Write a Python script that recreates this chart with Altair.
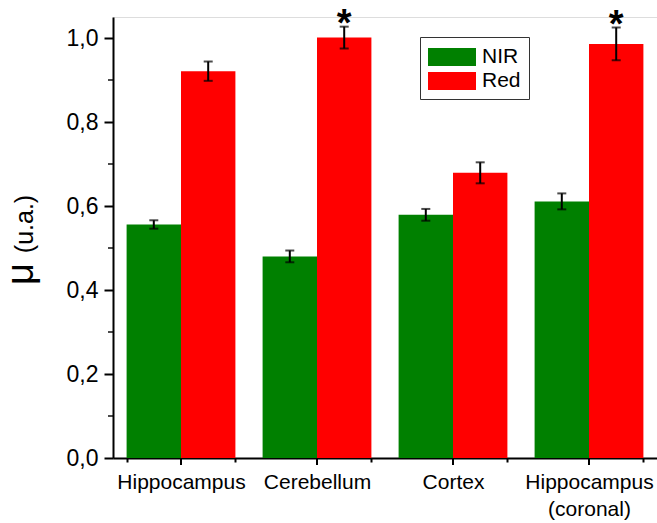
import altair as alt
import pandas as pd

categories = ["Hippocampus", "Cerebellum", "Cortex", "Hippocampus (coronal)"]
series = ["NIR", "Red"]
nir_values = [0.556, 0.480, 0.579, 0.611]
nir_errors = [0.010, 0.014, 0.014, 0.019]
red_values = [0.921, 1.001, 0.679, 0.986]
red_errors = [0.023, 0.026, 0.025, 0.039]
red_significant = [False, True, False, True]
y_major_ticks = [0.0, 0.2, 0.4, 0.6, 0.8, 1.0]
y_minor_ticks = [0.1, 0.3, 0.5, 0.7, 0.9]

rows = []
for i, c in enumerate(categories):
    rows.append({"cat": c, "series": "NIR", "value": nir_values[i], "err": nir_errors[i], "star": False})
    rows.append({"cat": c, "series": "Red", "value": red_values[i], "err": red_errors[i], "star": red_significant[i]})
df = pd.DataFrame(rows)
df["lo"] = df["value"] - df["err"]
df["hi"] = df["value"] + df["err"]
df["mark"] = "*"

W, H = 544, 441
FONT = "Liberation Sans"

x_enc = alt.X("cat:N", sort=categories, title=None,
              scale=alt.Scale(paddingInner=0.2, paddingOuter=0.1),
              axis=alt.Axis(tickBand="extent", tickSize=4, tickWidth=2, tickColor="black",
                            domainColor="black", domainWidth=2, labelAngle=0, grid=False,
                            labelFontSize=21, labelFont=FONT, labelColor="black",
                            labelPadding=9, labelLineHeight=27,
                            labelExpr="isValid(datum.value) ? split(datum.value, ' ') : ''"))
xoff = alt.XOffset("series:N", sort=series, scale=alt.Scale(paddingInner=0, paddingOuter=0))
y_scale = alt.Scale(domain=[0, 1.05], nice=False, zero=True)
y_enc = alt.Y("value:Q", scale=y_scale, title=None,
              axis=alt.Axis(values=y_major_ticks, tickSize=9, tickWidth=2, tickColor="black",
                            domainColor="black", domainWidth=2, grid=False,
                            labelFontSize=23, labelFont=FONT, labelColor="black",
                            labelPadding=6,
                            labelExpr="replace(format(datum.value, '.1f'), '.', ',')"))

bars = alt.Chart(df).mark_bar(size=54.4).encode(
    x=x_enc,
    xOffset=xoff,
    y=y_enc,
    color=alt.Color("series:N", sort=series,
                    scale=alt.Scale(domain=series, range=["#008000", "#ff0000"]),
                    legend=alt.Legend(title=None, orient="none", legendX=307, legendY=20,
                                      symbolType="M-1,-0.75H3V0.75H-1Z", symbolSize=576,
                                      symbolStrokeWidth=0, labelFontSize=21, labelFont=FONT,
                                      labelColor="black", padding=8, rowPadding=2,
                                      labelOffset=30, strokeColor="#333333",
                                      labelExpr="datum.label + '\u00a0\u00a0'",
                                      fillColor="white")),
)

err_rule = alt.Chart(df).mark_rule(color="black", strokeWidth=2).encode(
    x=alt.X("cat:N", sort=categories),
    xOffset=xoff,
    y=alt.Y("lo:Q", scale=y_scale),
    y2="hi:Q",
)
cap_lo = alt.Chart(df).mark_tick(color="black", thickness=2, size=9).encode(
    x=alt.X("cat:N", sort=categories),
    xOffset=xoff,
    y=alt.Y("lo:Q", scale=y_scale),
)
cap_hi = alt.Chart(df).mark_tick(color="black", thickness=2, size=9).encode(
    x=alt.X("cat:N", sort=categories),
    xOffset=xoff,
    y=alt.Y("hi:Q", scale=y_scale),
)
stars = alt.Chart(df).transform_filter("datum.star").mark_text(
    fontSize=38, fontWeight="bold", font=FONT, color="black", baseline="alphabetic", dy=9
).encode(
    x=alt.X("cat:N", sort=categories),
    xOffset=xoff,
    y=alt.Y("hi:Q", scale=y_scale),
    text="mark:N",
)

cat_df = pd.DataFrame({"cat": categories})
x_major = alt.Chart(cat_df).mark_rule(color="black", strokeWidth=2).encode(
    x=alt.X("cat:N", sort=categories),
    y=alt.value(H), y2=alt.value(H + 7),
)
minor_df = pd.DataFrame({"v": y_minor_ticks})
y_minor = alt.Chart(minor_df).mark_tick(color="black", thickness=2, size=5, orient="horizontal").encode(
    y=alt.Y("v:Q", scale=y_scale),
    x=alt.value(-2.5),
)

mu = alt.Chart(pd.DataFrame({"t": ["μ"]})).mark_text(
    angle=270, fontSize=38, font=FONT, color="black", align="center", baseline="middle"
).encode(text="t:N", x=alt.value(-91), y=alt.value(257))
ua = alt.Chart(pd.DataFrame({"t": ["(u.a.)"]})).mark_text(
    angle=270, fontSize=25, font=FONT, color="black", align="center", baseline="middle"
).encode(text="t:N", x=alt.value(-88), y=alt.value(207))

chart = alt.layer(bars, err_rule, cap_lo, cap_hi, stars, x_major, y_minor, mu, ua).properties(
    width=W, height=H,
    autosize=alt.AutoSizeParams(type="none"),
    padding={"left": 113, "top": 17, "right": 0, "bottom": 65},
).configure_view(stroke=None).configure_axis(grid=False).configure(background="white")

chart.save("out.html", embed_options={"renderer": "svg", "actions": False})
